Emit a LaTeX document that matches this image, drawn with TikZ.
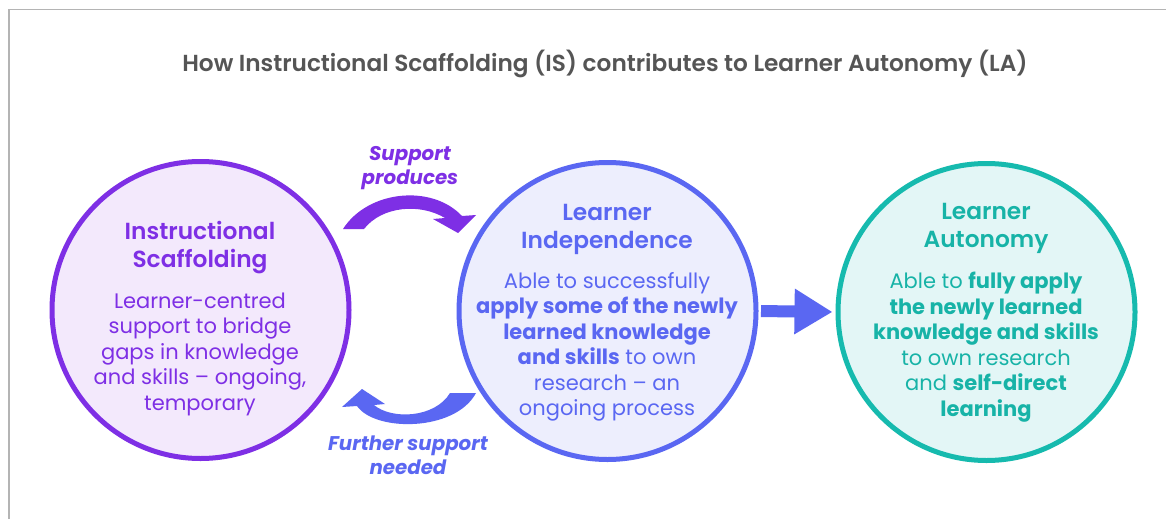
\documentclass[tikz,border=0pt]{standalone}
\usepackage{fontspec}
\usetikzlibrary{arrows.meta,calc}
\setmainfont{Poppins}
\IfFontExistsTF{Poppins Medium}{\newfontfamily\medfont{Poppins Medium}}{\newcommand\medfont{\bfseries}}
\IfFontExistsTF{Poppins SemiBold}{\newfontfamily\semifont{Poppins SemiBold}}{\newcommand\semifont{\medfont}}
\definecolor{purp}{HTML}{7E2FE5}
\definecolor{purpfill}{HTML}{F3E9FC}
\definecolor{blu}{HTML}{5A67F2}
\definecolor{blufill}{HTML}{EDEEFD}
\definecolor{teal}{HTML}{16BAAE}
\definecolor{tealtext}{HTML}{17B3A7}
\definecolor{tealfill}{HTML}{E3F6F6}
\definecolor{titlegray}{HTML}{555555}
\definecolor{framegray}{HTML}{B4B4B4}
\begin{document}
\begin{tikzpicture}[x=1pt,y=-1pt,
  circ/.style={circle, minimum size=297pt, line width=5pt, inner sep=0pt},
  ttl/.style={align=center, font=\semifont\fontsize{23.3}{28}\selectfont, inner sep=0pt},
  body/.style={align=center, font=\fontsize{21}{25.5}\selectfont, inner sep=0pt},
  lbl/.style={align=center, font=\bfseries\itshape\fontsize{19.8}{24}\selectfont, inner sep=0pt}]
\useasboundingbox (0,0) rectangle (1166,519);
\fill[white] (0,0) rectangle (1166,519);
\draw[framegray, line width=1.3pt] (9,519) -- (9,9.5) -- (1166,9.5);

\node[text=titlegray, font=\semifont\fontsize{23.2}{28}\selectfont, inner sep=0pt] (title) at (605,64)
  {How Instructional Scaffolding (IS) contributes to Learner Autonomy (LA)};

\node[circ, draw=purp, fill=purpfill] (IS) at (200.5,310) {};
\node[circ, draw=blu, fill=blufill] (LI) at (607.5,311) {};
\node[circ, draw=teal, fill=tealfill] (LA) at (986.5,312) {};

\draw[blu, line width=12pt, shorten <=2.5pt, shorten >=3pt, -{Triangle[length=38pt,width=43pt]}] (LI.east) -- (LA.west);

% texts
\node[ttl, text=purp] (IStitle) at (200,248) {Instructional\\Scaffolding};
\node[body, text=purp] (ISbody) at (200,354) {Learner-centred\\support to bridge\\gaps in knowledge\\and skills -- ongoing,\\temporary};

\node[ttl, text=blu] (LItitle) at (607,229) {Learner\\Independence};
\node[body, text=blu] (LIbody) at (607,347) {Able to successfully\\\textbf{apply some of the newly}\\\textbf{learned knowledge}\\\textbf{and skills} to own\\research -- an\\ongoing process};

\node[ttl, text=tealtext] (LAtitle) at (986,228.5) {Learner\\Autonomy};
\node[body, text=tealtext] (LAbody) at (986,347) {Able to \textbf{fully apply}\\\textbf{the newly learned}\\\textbf{knowledge and skills}\\to own research\\and \textbf{self-direct}\\\textbf{learning}};

% curved arrows
\coordinate (t0) at (343,229);
\coordinate (t1) at (462,216);
\fill[purp] (t0) .. controls (368,190) and (432,184) .. (t1) -- (476,215) -- (458,233) -- (433,219) -- (445,218)
  .. controls (420,203) and (382,206) .. (364,229) -- cycle;

\coordinate (b0) at (476,393);
\coordinate (b1) at (357,406);
\fill[blu] (b0) .. controls (455,432) and (375,432) .. (b1) -- (342,407) -- (362,389) -- (385,404) -- (374,405)
  .. controls (392,420) and (435,418) .. (450,393) -- cycle;

\node[lbl, text=purp] (sp) at (410,168) {Support\\produces};
\node[lbl, text=blu] (fs) at (408,455) {Further support\\needed};
\end{tikzpicture}
\end{document}
